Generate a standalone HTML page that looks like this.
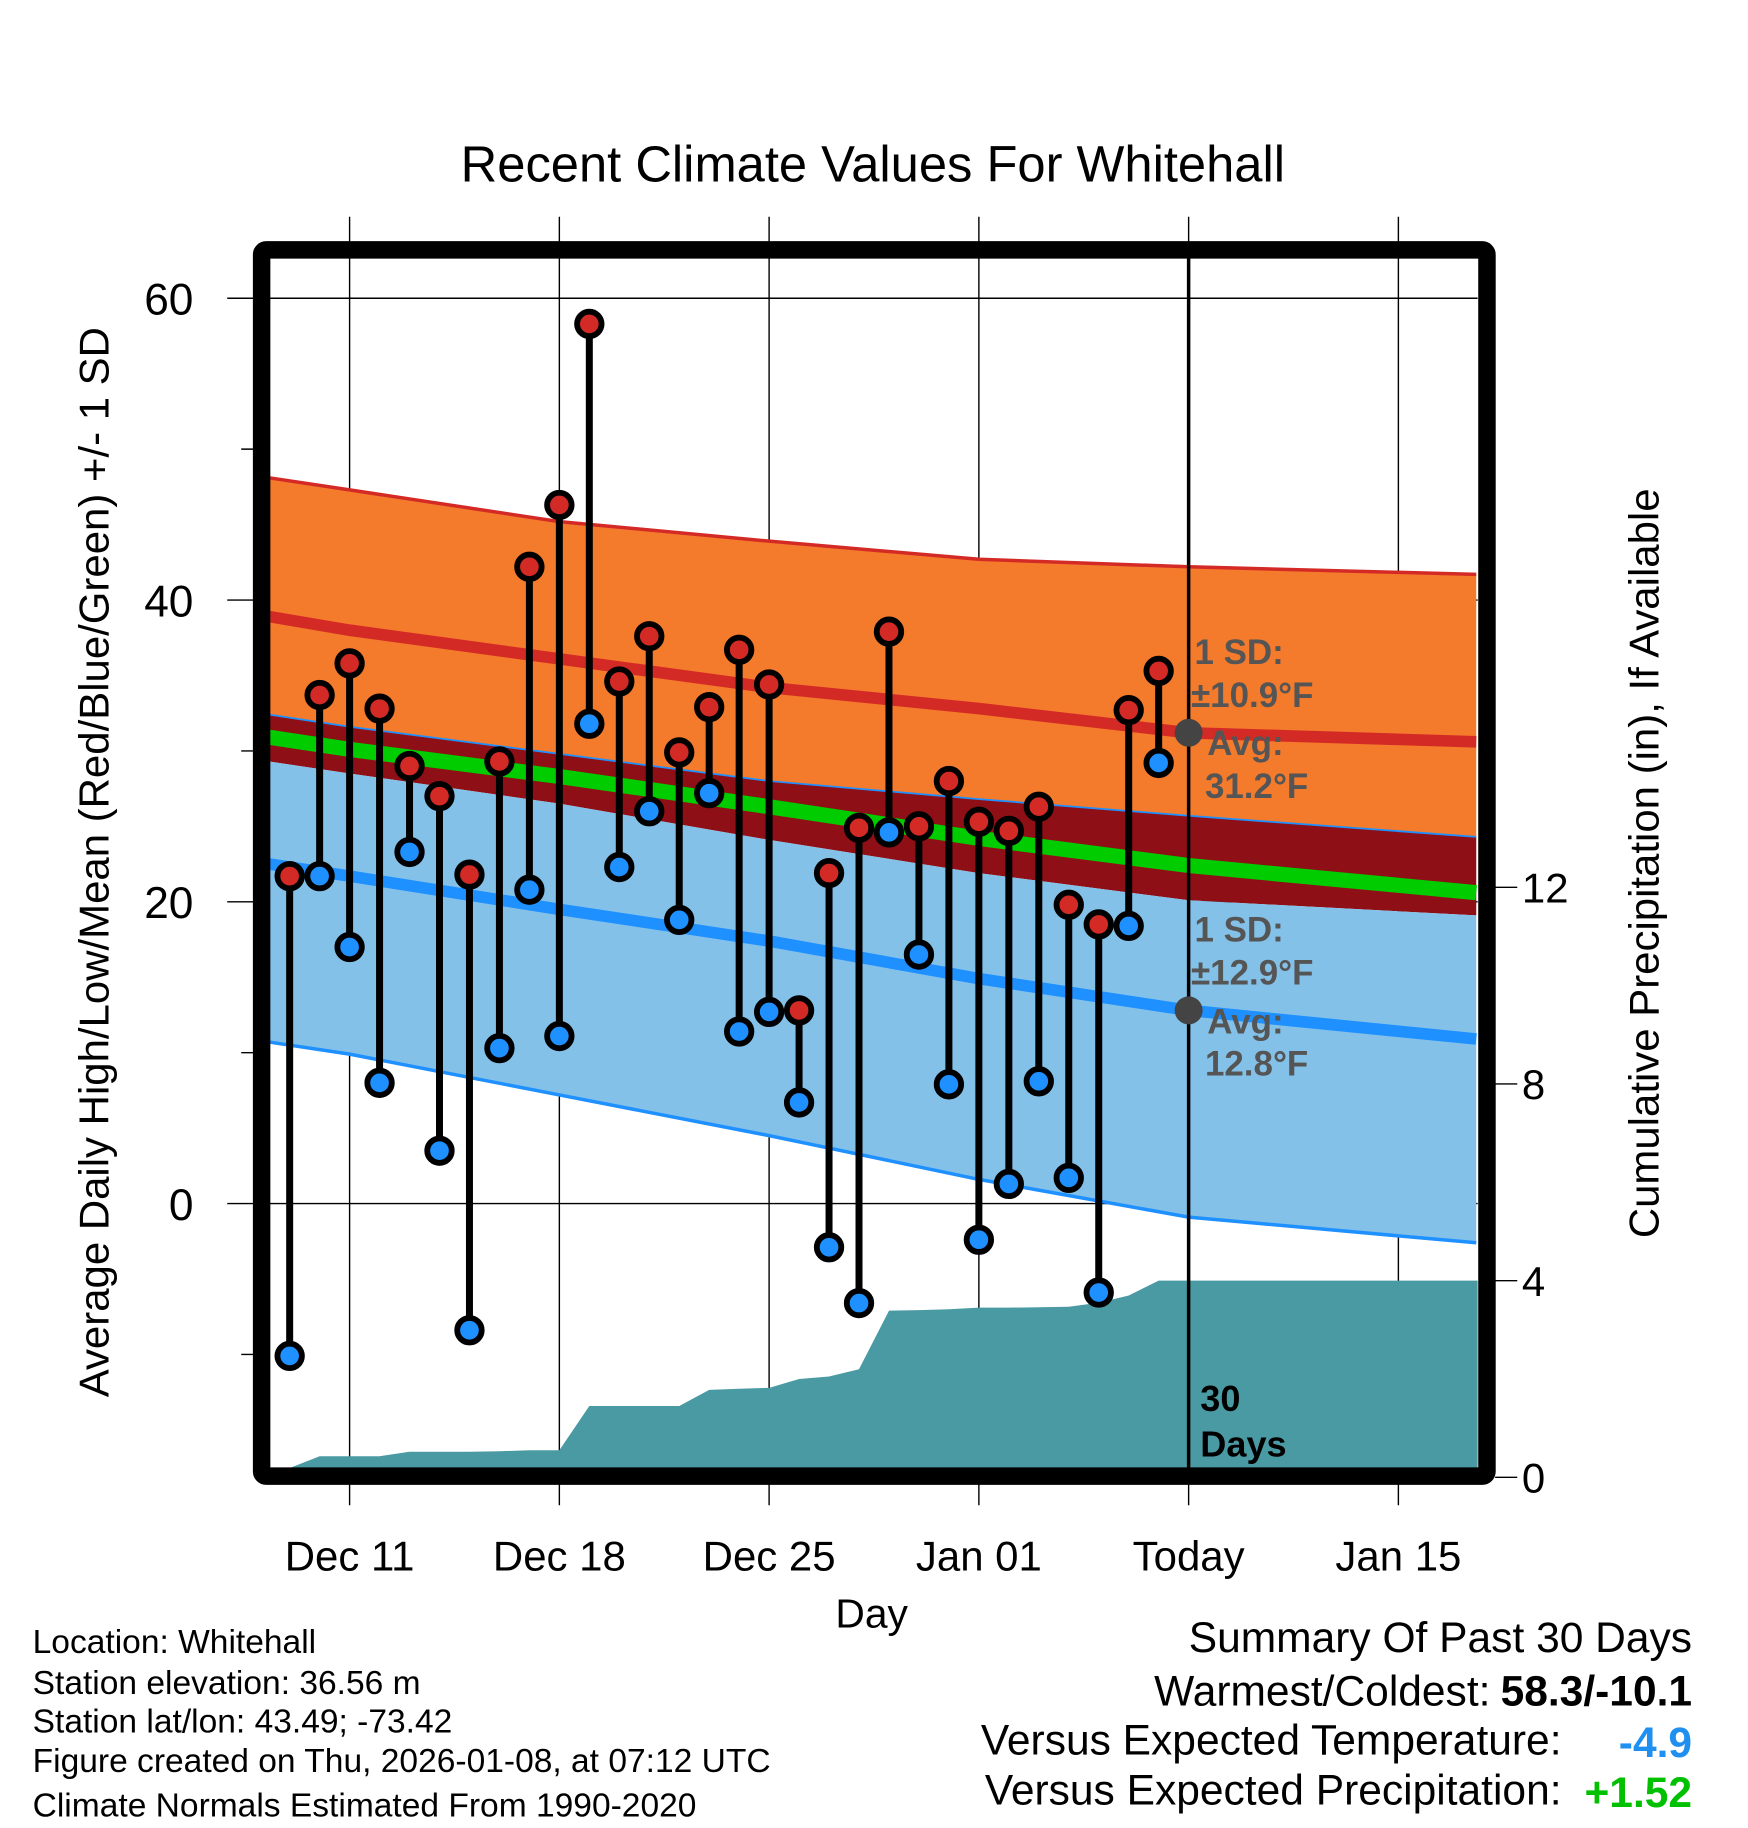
<!DOCTYPE html>
<html><head><meta charset="utf-8"><style>
html,body{margin:0;padding:0;background:#fff;}
svg{display:block;font-family:"Liberation Sans",Arial,sans-serif;}
</style></head><body>
<svg id="chart" width="1748" height="1828" viewBox="0 0 1500 1569" preserveAspectRatio="none" xmlns="http://www.w3.org/2000/svg">
<g id="grid"></g>
<g id="bands"></g>
<g id="precip"></g>
<g id="marks"></g>
<g id="frame"></g>
<g id="labels"></g>
</svg>
<script>
const days = [-2,-1,0,1,2,3,4,5,6,7,8,9,10,11,12,13,14,15,16,17,18,19,20,21,22,23,24,25,26,27];
const highs = [21.7,33.7,35.8,32.8,29.0,27.0,21.8,29.3,42.2,46.3,58.3,34.6,37.6,29.9,32.9,36.7,34.4,12.8,21.9,24.9,37.9,25.0,28.0,25.3,24.7,26.3,19.8,18.5,32.7,35.3];
const lows = [-10.1,21.7,17.0,8.0,23.3,3.5,-8.4,10.3,20.8,11.1,31.8,22.3,26.0,18.8,27.2,11.4,12.7,6.7,-2.9,-6.6,24.6,16.5,7.9,-2.4,1.3,8.1,1.7,-5.9,18.4,29.2];
const precip = [0,0.43,0.43,0.43,0.52,0.52,0.52,0.53,0.55,0.55,1.45,1.45,1.45,1.45,1.78,1.8,1.82,2.0,2.05,2.2,3.39,3.4,3.42,3.45,3.45,3.46,3.47,3.55,3.7,4.0];
const normDays = [-2.7,0,7,14,21,28,37.6];
const hiPlus = [48.1,47.3,45.2,43.9,42.7,42.2,41.7];
const hiMean = [38.9,38.0,36.1,34.2,32.8,31.2,30.6];
const meanTop = [32.4,31.6,29.8,28.0,26.8,25.7,24.3];
const meanVal = [30.9,30.1,28.3,26.3,24.2,22.4,20.6];
const meanBot = [29.3,28.5,26.5,24.1,21.9,20.1,19.1];
const loMean = [22.5,21.7,19.5,17.4,14.9,12.8,10.9];
const loMinus = [10.7,9.9,7.2,4.5,1.6,-0.9,-2.6];
const xTickDays = [0,7,14,21,28,35];
const xTickLabels = ["Dec 11","Dec 18","Dec 25","Jan 01","Today","Jan 15"];
const yTicks = [60,40,20,0];
const yMinor = [50,30,10,-10];
const pTicks = [0,4,8,12];

const NS="http://www.w3.org/2000/svg";
const X0=231,X1=1268,Y0=221,Y1=1260;
function xs(d){return 300+25.714*d;}
function ys(v){return 1033-12.95*v;}
function yp(p){return 1268-42.2*p;}
function mk(parent,tag,attrs,name){const e=document.createElementNS(NS,tag);for(const k in attrs)e.setAttribute(k,attrs[k]);


document.getElementById(parent).appendChild(e);return e;}
function line(arr){return normDays.map((d,i)=>[Math.max(X0,Math.min(X1,xs(d))),ys(arr[i])]);}
function pts(a){return a.map(p=>p[0].toFixed(1)+","+p[1].toFixed(1)).join(" ");}
function band(top,bot){const t=line(top),b=line(bot).reverse();return pts(t.concat(b));}

for(let i=0;i<xTickDays.length;i++){const x=xs(xTickDays[i]);
 mk('grid','line',{x1:x,x2:x,y1:186,y2:1292,stroke:'#000','stroke-width':1.2},'x-gridline');
 const t=mk('labels','text',{x:x,y:1348,'text-anchor':'middle','font-size':36},'x-tick-label');t.textContent=xTickLabels[i];}
for(const v of yTicks){const y=ys(v);
 mk('grid','line',{x1:195,x2:X1,y1:y,y2:y,stroke:'#000','stroke-width':1.2},'y-gridline');
 const t=mk('labels','text',{x:166,y:y+14,'text-anchor':'end','font-size':38},'y-tick-label');t.textContent=v;}
for(const v of yMinor){const y=ys(v);mk('grid','line',{x1:207,x2:X0,y1:y,y2:y,stroke:'#000','stroke-width':1.2},'y-minor-tick');}
for(const p of pTicks){const y=yp(p);
 mk('grid','line',{x1:1283,x2:1302,y1:y,y2:y,stroke:'#000','stroke-width':1.2},'precip-tick');
 const t=mk('labels','text',{x:1306,y:y+13,'font-size':36},'precip-tick-label');t.textContent=p;}

mk('bands','polygon',{points:band(hiPlus,meanTop),fill:'#f47a2c'},'high-sd-band');
mk('bands','polyline',{points:pts(line(hiPlus)),fill:'none',stroke:'#d42a26','stroke-width':3},'high-plus-sd-line');
mk('bands','polygon',{points:band(meanTop,meanBot),fill:'#8e0f15'},'mean-band');
mk('bands','polygon',{points:band(meanBot,loMinus),fill:'#84c1e8'},'low-sd-band');
mk('bands','polyline',{points:pts(line(meanTop)),fill:'none',stroke:'#1e90ff','stroke-width':1.5},'mean-top-line');
mk('bands','polyline',{points:pts(line(meanVal)),fill:'none',stroke:'#00cc00','stroke-width':13},'mean-line');
mk('bands','polyline',{points:pts(line(hiMean)),fill:'none',stroke:'#d42a26','stroke-width':10},'high-mean-line');
mk('bands','polyline',{points:pts(line(loMean)),fill:'none',stroke:'#1e90ff','stroke-width':10},'low-mean-line');
mk('bands','polyline',{points:pts(line(loMinus)),fill:'none',stroke:'#1e90ff','stroke-width':3},'low-minus-sd-line');

let pp=[];
for(let i=0;i<days.length;i++)pp.push([xs(days[i]),Math.min(Y1,yp(precip[i]))]);
pp.push([X1,yp(precip[precip.length-1])]);pp.push([X1,Y1]);pp.push([xs(days[0]),Y1]);
mk('precip','polygon',{points:pts(pp),fill:'#4a9aa4'},'precip-fill');

mk('marks','line',{x1:xs(28),x2:xs(28),y1:Y0,y2:Y1,stroke:'#000','stroke-width':3},'today-line');
for(let i=0;i<days.length;i++){const x=xs(days[i]);
 mk('marks','line',{x1:x,x2:x,y1:ys(highs[i]),y2:ys(lows[i]),stroke:'#000','stroke-width':6},'stem');}
for(let i=0;i<days.length;i++){const x=xs(days[i]);
 mk('marks','circle',{cx:x,cy:ys(highs[i]),r:10.5,fill:'#d42a26',stroke:'#000','stroke-width':5},'high-point');
 mk('marks','circle',{cx:x,cy:ys(lows[i]),r:10.5,fill:'#1e90ff',stroke:'#000','stroke-width':5},'low-point');}
mk('marks','circle',{cx:xs(28),cy:ys(hiMean[5]),r:12,fill:'#444'},'high-avg-dot');
mk('marks','circle',{cx:xs(28),cy:ys(loMean[5]),r:12,fill:'#444'},'low-avg-dot');

mk('frame','rect',{x:224.5,y:214.5,width:1051.5,height:1052.5,fill:'none',stroke:'#000','stroke-width':15,rx:4},'frame-rect');

function txt(x,y,s,str,extra,name){const t=mk('labels','text',Object.assign({x:x,y:y,'font-size':s},extra||{}),name);t.textContent=str;return t;}
txt(749,156,43.5,"Recent Climate Values For Whitehall",{'text-anchor':'middle'},'chart-title');
txt(748,1397,35,"Day",{'text-anchor':'middle'},'x-axis-title');
txt(0,0,36,"Average Daily High/Low/Mean (Red/Blue/Green) +/- 1 SD",{'text-anchor':'middle',transform:'translate(93,740) rotate(-90)'},'y-axis-title');
txt(0,0,36,"Cumulative Precipitation (in), If Available",{'text-anchor':'middle',transform:'translate(1423,741) rotate(-90)'},'precip-axis-title');
const g={fill:'#555','font-weight':'bold'};
txt(1025,570,30,"1 SD:",g,'high-sd-label');
txt(1022,607,30,"\u00b110.9\u00b0F",g,'high-sd-value');
txt(1036,648,30,"Avg:",g,'high-avg-label');
txt(1034,685,30,"31.2\u00b0F",g,'high-avg-value');
txt(1025,808,30,"1 SD:",g,'low-sd-label');
txt(1022,845,30,"\u00b112.9\u00b0F",g,'low-sd-value');
txt(1036,887,30,"Avg:",g,'low-avg-label');
txt(1034,923,30,"12.8\u00b0F",g,'low-avg-value');
txt(1030,1211,31,"30",{'font-weight':'bold'},'days-count');
txt(1030,1250,31,"Days",{'font-weight':'bold'},'days-label');
const info=["Location: Whitehall","Station elevation: 36.56 m","Station lat/lon: 43.49; -73.42","Figure created on Thu, 2026-01-08, at 07:12 UTC","Climate Normals Estimated From 1990-2020"];
const infoY=[1419,1454,1487,1521,1559];
info.forEach((s,i)=>txt(28,infoY[i],28.8,s,{},'station-info-line'));
txt(1452,1418,36.5,"Summary Of Past 30 Days",{'text-anchor':'end'},'summary-title');
txt(1279,1464,36.5,"Warmest/Coldest:",{'text-anchor':'end'},'warmest-coldest-label');
txt(1452,1464,36.5,"58.3/-10.1",{'text-anchor':'end','font-weight':'bold'},'warmest-coldest-value');
txt(1340,1506,36.5,"Versus Expected Temperature:",{'text-anchor':'end'},'temp-anomaly-label');
txt(1452,1508,36.5,"-4.9",{'text-anchor':'end','font-weight':'bold',fill:'#2090f0'},'temp-anomaly-value');
txt(1340,1549,36.5,"Versus Expected Precipitation:",{'text-anchor':'end'},'precip-anomaly-label');
txt(1452,1551,36.5,"+1.52",{'text-anchor':'end','font-weight':'bold',fill:'#00c000'},'precip-anomaly-value');
</script>
</body></html>
